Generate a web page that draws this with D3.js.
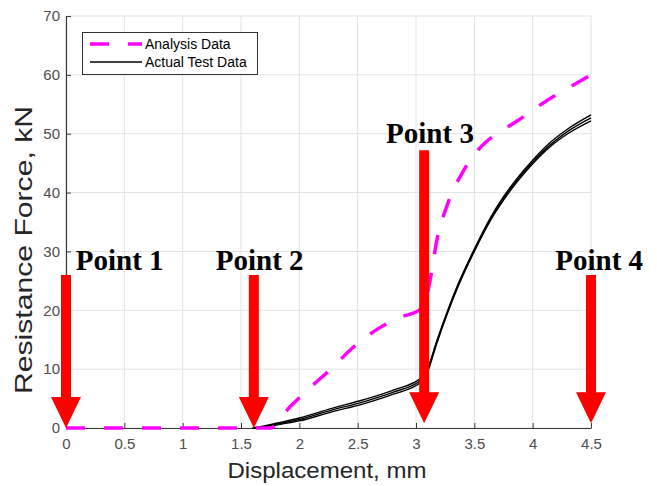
<!DOCTYPE html>
<html lang="en">
<head>
    <meta charset="UTF-8"/>
    <title>Resistance force vs displacement</title>
    <script src="https://d3js.org/d3.v7.min.js"></script>
    <style>
        body { margin: 0; background: #fff; }
        text { font-family: "Liberation Sans", Arial, sans-serif; }
        .tick text { fill: #4d4d4d; font-size: 15px; }
        .point-label { font-family: "Liberation Serif", "Times New Roman", serif; font-weight: bold; font-size: 29px; }
    </style>
</head>
<body>
<div id="chart"></div>
<script>
    // ---- data ----
    const xTicks = [0, 0.5, 1, 1.5, 2, 2.5, 3, 3.5, 4, 4.5];
    const yTicks = [0, 10, 20, 30, 40, 50, 60, 70];

    const analysisX = [0, 1.75, 1.92, 2.1, 2.27, 2.45, 2.67, 2.85, 3.04, 3.08, 3.12, 3.18, 3.27, 3.41, 3.5, 3.6, 3.72, 3.87, 4.0, 4.15, 4.3, 4.5];
    const analysisY = [0, 0, 3.6, 7, 10, 13.5, 16.8, 18.7, 20.2, 21.5, 25, 32, 38, 43.8, 46.5, 48.6, 50.3, 52.2, 54, 56, 57.7, 60];

    const testX  = [1.6, 1.7, 1.8, 2.0, 2.27, 2.55, 2.8, 3.05, 3.1, 3.18, 3.27, 3.36, 3.5, 3.64, 3.75, 3.87, 4.0, 4.15, 4.3, 4.5];
    const testY1 = [0, 0.2, 0.5, 1.2, 2.7, 4.1, 5.7, 7.9, 9.6, 14.5, 19.5, 24, 30, 35.3, 38.7, 41.9, 44.9, 47.8, 50.0, 52.2];
    const testY2 = [0, 0.35, 0.8, 1.7, 3.3, 4.8, 6.4, 8.6, 10.2, 14.9, 19.9, 24.4, 30.4, 35.8, 39.3, 42.5, 45.5, 48.5, 50.8, 53.2];
    const testY3 = [0, 0.28, 0.65, 1.45, 3.0, 4.45, 6.05, 8.25, 9.9, 14.7, 19.7, 24.2, 30.2, 35.5, 39.0, 42.2, 45.2, 48.1, 50.4, 52.7];

    // annotation arrows: x position, top of shaft, tip (kN), label position
    const pointNames  = ["Point 1", "Point 2", "Point 3", "Point 4"];
    const arrowX      = [0, 1.61, 3.07, 4.5];
    const arrowTop    = [26, 26, 47.2, 26];
    const arrowTip    = [0, 0, 0.8, 0.8];
    const labelX      = [0.46, 1.66, 3.12, 4.57];
    const labelY      = [26.8, 26.8, 48.4, 26.8];

    // ---- layout ----
    const W = 657, H = 486;
    const margin = {top: 16, right: 66, bottom: 58, left: 66};
    const width = W - margin.left - margin.right;
    const height = H - margin.top - margin.bottom;

    const svg = d3.select("#chart")
        .append("svg")
        .attr("width", W)
        .attr("height", H);
    svg.append("rect").attr("width", W).attr("height", H).attr("fill", "#fff");

    const g = svg.append("g")
        .attr("transform", "translate(" + margin.left + "," + margin.top + ")");

    const x = d3.scaleLinear().domain([0, 4.5]).range([0, width]);
    const y = d3.scaleLinear().domain([0, 70]).range([height, 0]);

    // grid
    g.append("g").selectAll("line").data(xTicks).join("line")
        .attr("x1", d => x(d)).attr("x2", d => x(d))
        .attr("y1", 0).attr("y2", height)
        .attr("stroke", "#e3e3e3").attr("stroke-width", 1);
    g.append("g").selectAll("line").data(yTicks).join("line")
        .attr("x1", 0).attr("x2", width)
        .attr("y1", d => y(d)).attr("y2", d => y(d))
        .attr("stroke", "#e3e3e3").attr("stroke-width", 1);

    // axes (MATLAB style, ticks inward)
    const xAxis = g.append("g")
        .attr("transform", "translate(0," + height + ")")
        .call(d3.axisBottom(x).tickValues(xTicks).tickSize(-5).tickPadding(10).tickSizeOuter(0)
            .tickFormat(d3.format("~g")));
    const yAxis = g.append("g")
        .call(d3.axisLeft(y).tickValues(yTicks).tickSize(-5).tickPadding(6).tickSizeOuter(0));
    [xAxis, yAxis].forEach(a => {
        a.select(".domain").attr("stroke", "#3a3a3a").attr("stroke-width", 1.2);
        a.selectAll(".tick line").attr("stroke", "#3a3a3a");
        a.selectAll(".tick text").attr("font-family", null).attr("font-size", null);
    });

    // axis labels
    svg.append("text")
        .attr("x", 327).attr("y", 478)
        .attr("text-anchor", "middle")
        .attr("fill", "#262626")
        .style("font-size", "22px")
        .attr("textLength", 199).attr("lengthAdjust", "spacingAndGlyphs")
        .text("Displacement, mm");
    svg.append("text")
        .attr("transform", "translate(32,250) rotate(-90)")
        .attr("text-anchor", "middle")
        .attr("fill", "#262626")
        .style("font-size", "24px")
        .attr("textLength", 288).attr("lengthAdjust", "spacingAndGlyphs")
        .text("Resistance Force, kN");

    // lines
    const line = d3.line().x(d => x(d[0])).y(d => y(d[1])).curve(d3.curveMonotoneX);

    [testY1, testY2, testY3].forEach(ys => {
        g.append("path")
            .datum(testX.map((v, i) => [v, ys[i]]))
            .attr("fill", "none")
            .attr("stroke", "#000")
            .attr("stroke-width", 1.4)
            .attr("d", line);
    });

    g.append("path")
        .datum(analysisX.map((v, i) => [v, analysisY[i]]))
        .attr("fill", "none")
        .attr("stroke", "#ff00ff")
        .attr("stroke-width", 3.5)
        .attr("stroke-dasharray", "19,19")
        .attr("d", line);

    // red arrows
    const shaftW = 10, headW = 30, headH = 31;
    pointNames.forEach((name, i) => {
        const cx = x(arrowX[i]), top = y(arrowTop[i]), tip = y(arrowTip[i]);
        const hb = tip - headH;
        const p = d3.path();
        p.moveTo(cx - shaftW / 2, top);
        p.lineTo(cx + shaftW / 2, top);
        p.lineTo(cx + shaftW / 2, hb);
        p.lineTo(cx + headW / 2, hb);
        p.lineTo(cx, tip);
        p.lineTo(cx - headW / 2, hb);
        p.lineTo(cx - shaftW / 2, hb);
        p.closePath();
        g.append("path").attr("d", p.toString()).attr("fill", "#ff0000");

        g.append("text")
            .attr("class", "point-label")
            .attr("x", x(labelX[i])).attr("y", y(labelY[i]))
            .attr("text-anchor", "middle")
            .attr("fill", "#000")
            .text(name);
    });

    // legend
    const lg = svg.append("g");
    lg.append("rect")
        .attr("x", 82.5).attr("y", 32.5).attr("width", 175).attr("height", 42)
        .attr("fill", "#fff").attr("stroke", "#333").attr("stroke-width", 1);
    lg.append("line")
        .attr("x1", 90).attr("x2", 142).attr("y1", 44).attr("y2", 44)
        .attr("stroke", "#ff00ff").attr("stroke-width", 3.5).attr("stroke-dasharray", "19,19");
    lg.append("line")
        .attr("x1", 90).attr("x2", 142).attr("y1", 62).attr("y2", 62)
        .attr("stroke", "#000").attr("stroke-width", 1.4);
    lg.append("text").attr("x", 145).attr("y", 44).attr("dy", "0.35em")
        .style("font-size", "14px").attr("fill", "#000").text("Analysis Data");
    lg.append("text").attr("x", 145).attr("y", 62).attr("dy", "0.35em")
        .style("font-size", "14px").attr("fill", "#000").text("Actual Test Data");
</script>
</body>
</html>
